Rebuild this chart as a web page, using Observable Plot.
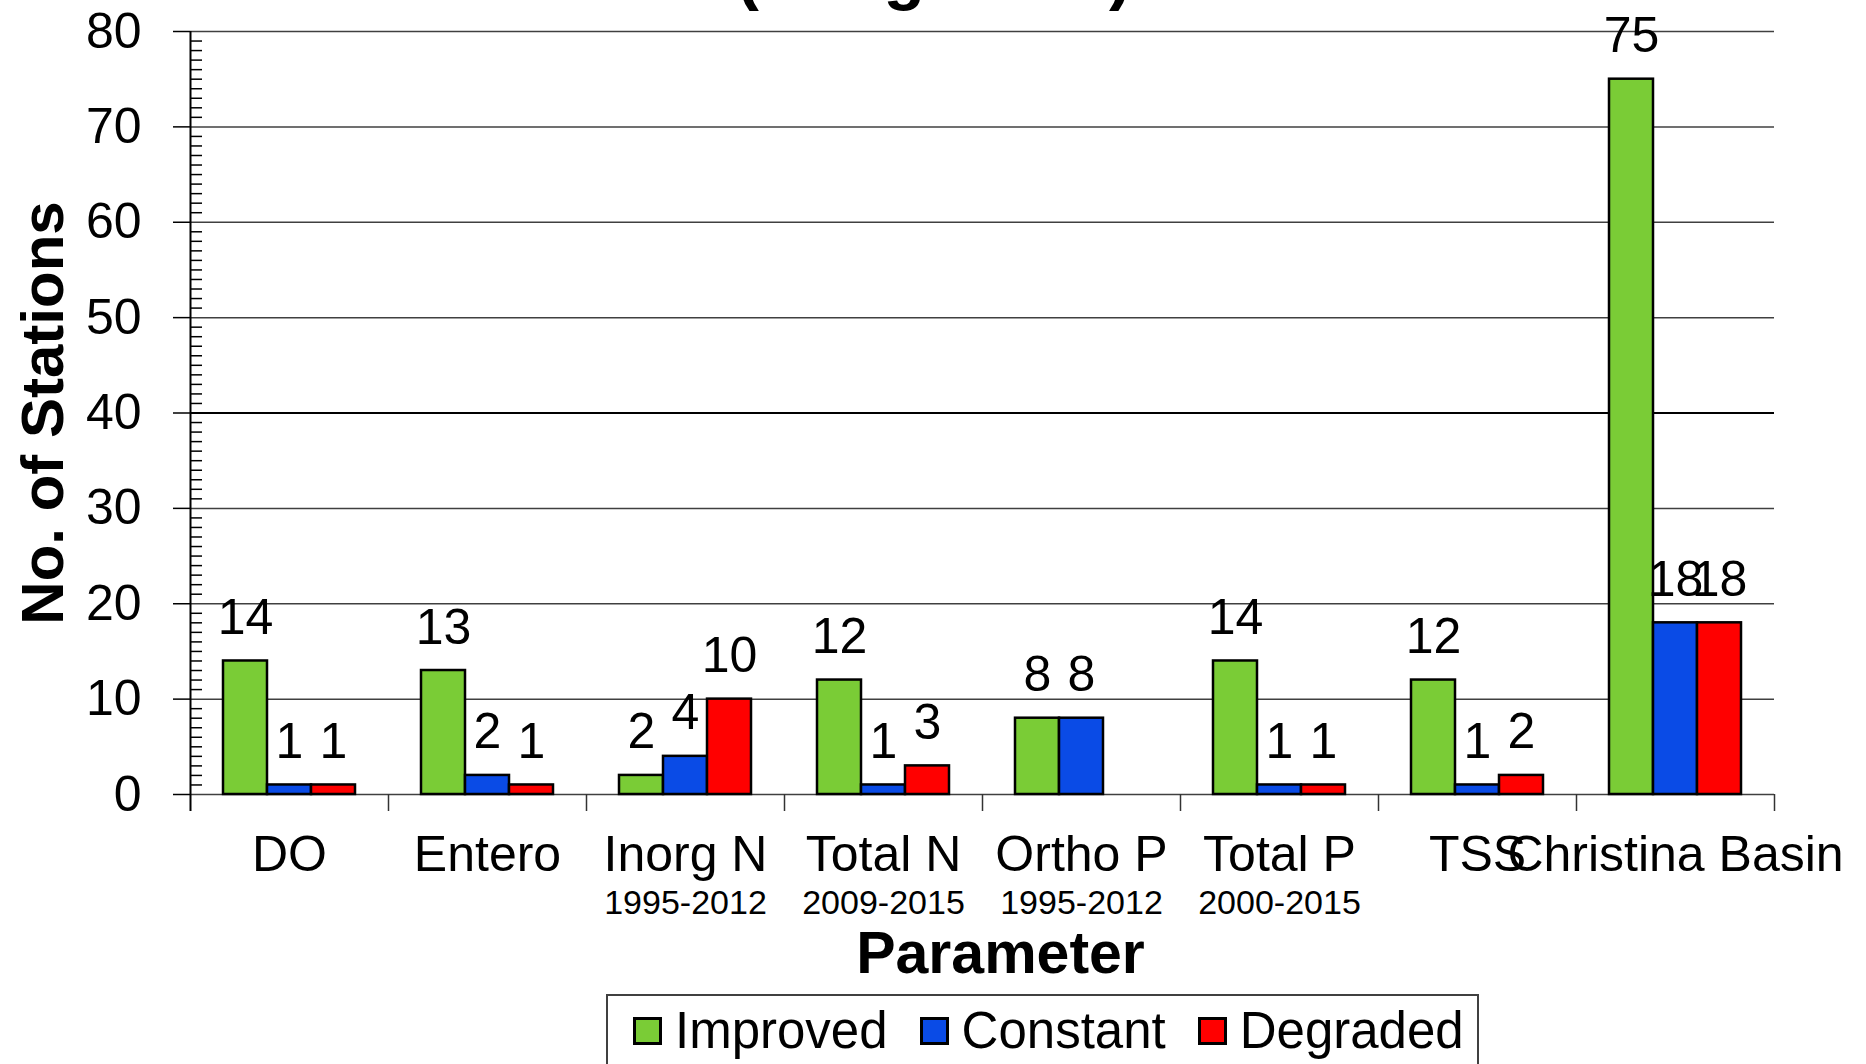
<!DOCTYPE html>
<html>
<head>
<meta charset="utf-8">
<script src="https://cdn.jsdelivr.net/npm/d3@7"></script>
<script src="https://cdn.jsdelivr.net/npm/@observablehq/plot@0.6"></script>
<style>
  body { margin: 0; background: #fff; font-family: "Liberation Sans", Arial, sans-serif; }
  #wrap { position: relative; width: 1866px; height: 1064px; overflow: hidden; }
  #title { position: absolute; left: 0; width: 1868px; top: -61px; text-align: center;
           font-weight: bold; font-size: 68px; line-height: 68px; color: #000; }
  #chart svg { display: block; }
  #legend { margin-left: 606px; width: 873px; height: 120px; border: 2px solid #404040;
            box-sizing: border-box; padding: 10px 0 0 25px; display: flex; align-items: flex-start; }
  .item { display: flex; align-items: center; height: 50px; margin-right: 32px; }
  .sw { width: 29px; height: 28px; border: 3px solid #000; box-sizing: border-box; margin-right: 13px; }
  .lab { font-size: 51px; line-height: 50px; color: #000; white-space: nowrap; }
</style>
</head>
<body>
<div id="wrap">
  <div id="chart"></div>
  <div id="legend"></div>
  <div id="title">(Long-Term)</div>
</div>
<script>
// ---- data ----
const categories = ["DO", "Entero", "Inorg N", "Total N", "Ortho P", "Total P", "TSS", "Christina Basin"];
const periods    = ["", "", "1995-2012", "2009-2015", "1995-2012", "2000-2015", "", ""];
const series     = ["Improved", "Constant", "Degraded"];
const improved   = [14, 13, 2, 12, 8, 14, 12, 75];
const constant   = [1, 2, 4, 1, 8, 1, 1, 18];
const degraded   = [1, 1, 10, 3, null, 1, 2, 18];
const yTicks     = [0, 10, 20, 30, 40, 50, 60, 70, 80];
const colors     = ["#7acc36", "#0a4be6", "#ff0000"];

// ---- layout ----
const W = 1866, H = 994, ML = 190, MR = 92, MT = 31, MB = 200;
const frameW = W - ML - MR;
const step = frameW / categories.length;
const bw = step * 2 / 3;
const third = bw / 3;

const values = [improved, constant, degraded];
const rows = [];
categories.forEach((c, i) => series.forEach((s, j) => {
  const v = values[j][i];
  if (v != null) rows.push({cat: c, series: s, value: v, j});
}));
const minor = d3.range(1, 80).filter(v => v % 10 !== 0);
const periodRows = categories.map((c, i) => ({c, p: periods[i]})).filter(d => d.p);

const chart = Plot.plot({
  width: W, height: H,
  marginLeft: ML, marginRight: MR, marginTop: MT, marginBottom: MB,
  style: {fontFamily: "Liberation Sans, Arial, sans-serif", background: "white", overflow: "visible", color: "#000"},
  x: {type: "band", domain: categories, paddingInner: 1/3, paddingOuter: 1/6, axis: null},
  y: {domain: [0, 80], axis: null, label: null},
  marks: [
    Plot.ruleY(yTicks.filter(v => v !== 40), {stroke: "#404040", strokeWidth: 1.5}),
    Plot.ruleY([40], {stroke: "#000", strokeWidth: 2.2}),
    ...series.map((s, j) => Plot.barY(rows.filter(r => r.j === j), {
      x: "cat", y: "value", fill: colors[j], stroke: "#000", strokeWidth: 2.5,
      insetLeft: j * third, insetRight: (2 - j) * third
    })),
    ...series.map((s, j) => Plot.text(rows.filter(r => r.j === j), {
      x: "cat", y: "value", text: d => String(d.value), dx: (j - 1) * third, dy: -27,
      lineAnchor: "bottom", fontSize: 50, fill: "#000"
    })),
    // y axis line (continues as first category boundary tick)
    Plot.ruleX([categories[0]], {x: d => d, y1: 80, y2: 0, dx: -step / 2, insetBottom: -17, stroke: "#000", strokeWidth: 2}),
    Plot.ruleX(categories.slice(1), {x: d => d, y1: 0, y2: 0, dx: -step / 2, insetBottom: -17, stroke: "#333", strokeWidth: 1.5}),
    Plot.ruleX([categories[categories.length - 1]], {x: d => d, y1: 0, y2: 0, dx: step / 2, insetBottom: -17, stroke: "#333", strokeWidth: 1.5}),
    Plot.tickY(minor, {y: d => d, insetRight: frameW - 12, stroke: "#000", strokeWidth: 1.5}),
    Plot.axisY(yTicks, {tickSize: 17, tickPadding: 32, fontSize: 50, color: "#000", strokeWidth: 1.5, label: null}),
    Plot.text(["No. of Stations"], {text: d => d, frameAnchor: "left", textAnchor: "middle", dx: 62 - ML, rotate: -90,
      lineAnchor: "bottom", fontSize: 60, fontWeight: "bold", fill: "#000"}),
    Plot.text(categories, {x: d => d, text: d => d, frameAnchor: "bottom", dy: 76,
      lineAnchor: "bottom", fontSize: 50, fill: "#000"}),
    Plot.text(periodRows, {x: "c", text: "p", frameAnchor: "bottom", dy: 119,
      lineAnchor: "bottom", fontSize: 34, fill: "#000"}),
    Plot.text(["Parameter"], {text: d => d, frameAnchor: "bottom", dx: 18, dy: 178,
      lineAnchor: "bottom", fontSize: 59, fontWeight: "bold", fill: "#000"})
  ]
});
document.getElementById("chart").appendChild(chart);

// legend (HTML, below the SVG)
const legend = d3.select("#legend");
series.forEach((s, j) => {
  const it = legend.append("div").attr("class", "item");
  it.append("div").attr("class", "sw").style("background", colors[j]);
  it.append("div").attr("class", "lab").text(s);
});
</script>
</body>
</html>
